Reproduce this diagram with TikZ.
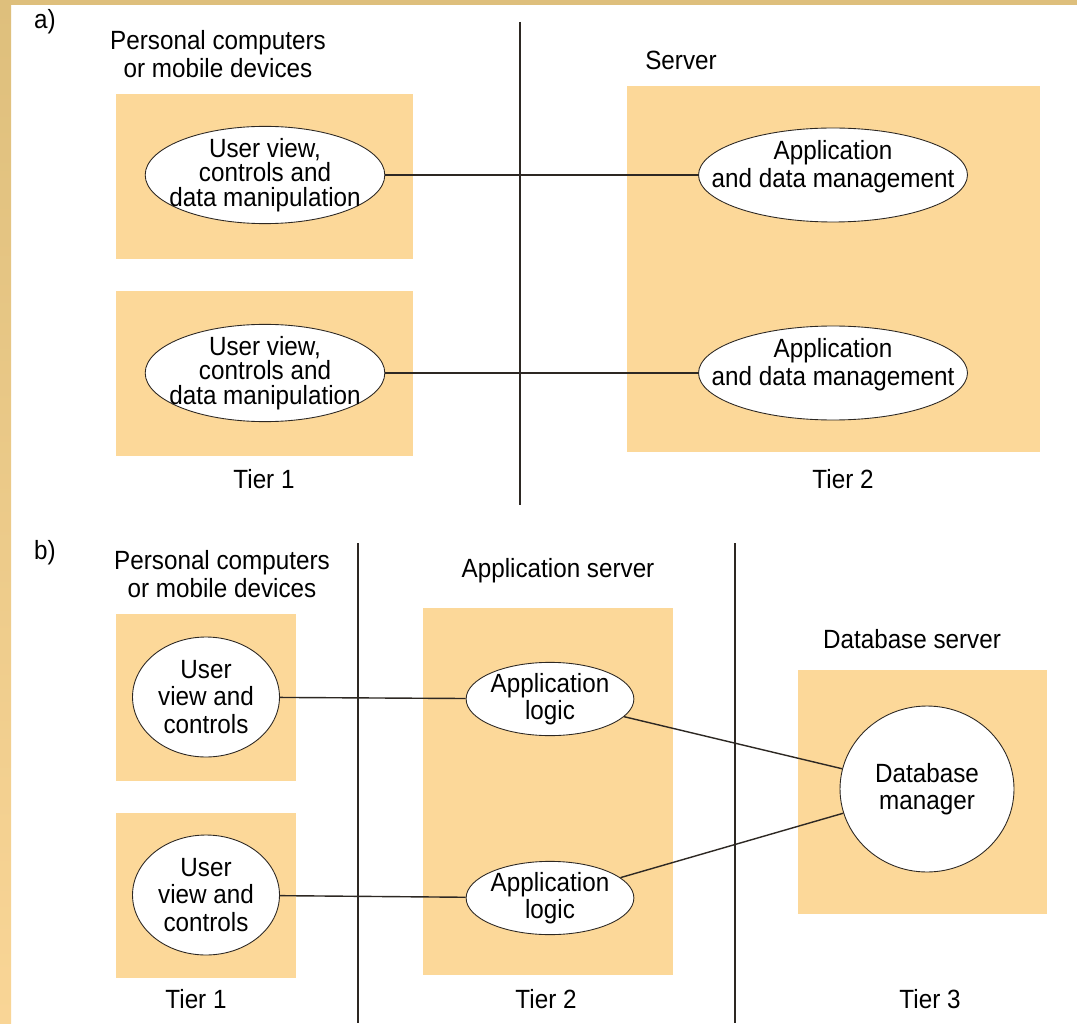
\documentclass[tikz,border=0pt]{standalone}
\usepackage{fontspec}
\setmainfont{Liberation Sans}[FakeStretch=0.92]
\usetikzlibrary{shapes.geometric,positioning}

\definecolor{tierfill}{RGB}{252,216,153}
\definecolor{edgetan}{RGB}{222,191,124}
\definecolor{edgelight}{RGB}{249,213,150}
\definecolor{inkline}{RGB}{45,40,35}

\tikzset{
  oval/.style={ellipse,draw=inkline,line width=0.5pt,fill=white,inner sep=0pt,
    align=center,font=\fontsize{15}{15.5}\selectfont},
  lbl/.style={align=center,inner sep=0pt,font=\fontsize{15}{16}\selectfont},
  link/.style={draw=inkline,line width=0.8pt}
}

\begin{document}
\begin{tikzpicture}[x=0.02cm,y=-0.02cm]
    \useasboundingbox (0,0) rectangle (1077,1023);
    \fill[white] (0,0) rectangle (1077,1023);
    % frame strips
    \shade[top color=edgetan,bottom color=edgelight] (0,0) rectangle (11,1023);
    \fill[edgetan] (0,0) rectangle (1077,5);

    % a) two tiers
    \node[lbl] (pa) at (45,22) {a)};
    \node[lbl] (pcA) at (218,54) {Personal computers\\or mobile devices};
    \node[lbl] (srv) at (681,60) {Server};
    \fill[tierfill] (116,94) rectangle (413,259);
    \fill[tierfill] (116,291) rectangle (413,456);
    \fill[tierfill] (627,86) rectangle (1040,452);
    \draw[link] (520,22) -- (520,505);
    \node[oval,inner xsep=-0.22cm,inner ysep=-0.05cm,minimum height=1.84cm,
        font=\fontsize{15}{14}\selectfont]
        (ua1) at (265,175) {User view,\\controls and\\data manipulation};
    \node[oval,inner xsep=-0.22cm,inner ysep=-0.05cm,minimum height=1.84cm,
        font=\fontsize{15}{14}\selectfont]
        (ua2) at (265,373) {User view,\\controls and\\data manipulation};
    \node[oval,minimum width=5.38cm,minimum height=1.88cm,
        label={[lbl,yshift=0.17cm]center:{Application\\and data management}}]
        (ma1) at (833,175) {};
    \node[oval,minimum width=5.38cm,minimum height=1.88cm,
        label={[lbl,yshift=0.17cm]center:{Application\\and data management}}]
        (ma2) at (833,373) {};
    \draw[link] (ua1) -- (ma1);
    \draw[link] (ua2) -- (ma2);
    \node[lbl] (ta1) at (264,479) {Tier 1};
    \node[lbl] (ta2) at (843,479) {Tier 2};

    % b) three tiers
    \node[lbl] (pb) at (45,553) {b)};
    \node[lbl] (pcB) at (222,574) {Personal computers\\or mobile devices};
    \node[lbl] (asrv) at (558,571) {Application server};
    \node[lbl] (dsrv) at (912,639) {Database server};
    \draw[link] (358,543) -- (358,1023);
    \draw[link] (735,543) -- (735,1023);
    \fill[tierfill] (116,614) rectangle (296,781);
    \fill[tierfill] (116,813) rectangle (296,978);
    \fill[tierfill] (423,608) rectangle (673,975);
    \fill[tierfill] (798,670) rectangle (1047,914);
    \node[oval,minimum width=2.94cm,minimum height=2.4cm]
        (ub1) at (206,697) {User\\view and\\controls};
    \node[oval,minimum width=2.94cm,minimum height=2.4cm]
        (ub2) at (206,895) {User\\view and\\controls};
    \node[oval,minimum width=3.3cm,minimum height=1.44cm]
        (al1) at (550,699) {Application\\logic};
    \node[oval,minimum width=3.3cm,minimum height=1.44cm]
        (al2) at (550,898) {Application\\logic};
    \node[oval,minimum width=3.48cm,minimum height=3.32cm]
        (dbm) at (927,789) {Database\\manager};
    \draw[link] (ub1) -- (al1);
    \draw[link] (ub2) -- (al2);
    \draw[link] (al1) -- (dbm);
    \draw[link] (al2) -- (dbm);
    \node[lbl] (tb1) at (196,999) {Tier 1};
    \node[lbl] (tb2) at (546,999) {Tier 2};
    \node[lbl] (tb3) at (930,999) {Tier 3};
\end{tikzpicture}
\end{document}
